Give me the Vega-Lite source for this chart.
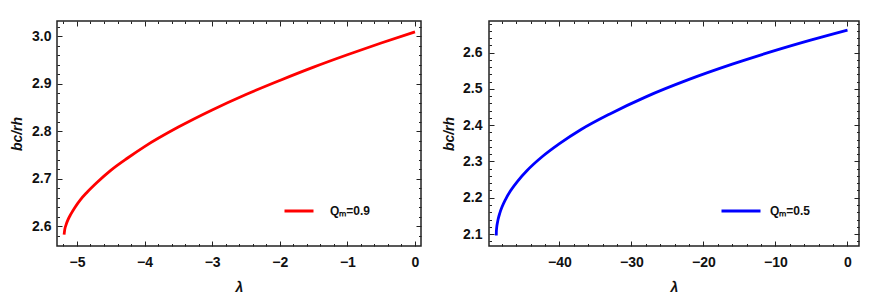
{
  "$schema": "https://vega.github.io/schema/vega-lite/v6.json",
  "padding": {"left": 9, "top": 19, "right": 15, "bottom": 5},
  "background": "white",
  "datasets": {
    "left": [
      {"lambda": -5.19, "b": 2.583, "series": "Qₘ=0.9"},
      {"lambda": -5.18, "b": 2.594, "series": "Qₘ=0.9"},
      {"lambda": -5.16, "b": 2.604, "series": "Qₘ=0.9"},
      {"lambda": -5.13, "b": 2.615, "series": "Qₘ=0.9"},
      {"lambda": -5.09, "b": 2.626, "series": "Qₘ=0.9"},
      {"lambda": -5.03, "b": 2.640, "series": "Qₘ=0.9"},
      {"lambda": -4.95, "b": 2.656, "series": "Qₘ=0.9"},
      {"lambda": -4.85, "b": 2.672, "series": "Qₘ=0.9"},
      {"lambda": -4.7, "b": 2.693, "series": "Qₘ=0.9"},
      {"lambda": -4.5, "b": 2.718, "series": "Qₘ=0.9"},
      {"lambda": -4.25, "b": 2.744, "series": "Qₘ=0.9"},
      {"lambda": -4.0, "b": 2.768, "series": "Qₘ=0.9"},
      {"lambda": -3.5, "b": 2.809, "series": "Qₘ=0.9"},
      {"lambda": -3.0, "b": 2.845, "series": "Qₘ=0.9"},
      {"lambda": -2.5, "b": 2.8775, "series": "Qₘ=0.9"},
      {"lambda": -2.0, "b": 2.907, "series": "Qₘ=0.9"},
      {"lambda": -1.5, "b": 2.935, "series": "Qₘ=0.9"},
      {"lambda": -1.0, "b": 2.961, "series": "Qₘ=0.9"},
      {"lambda": -0.5, "b": 2.9857, "series": "Qₘ=0.9"},
      {"lambda": 0.0, "b": 3.009, "series": "Qₘ=0.9"}
    ],
    "right": [
      {"lambda": -48.78, "b": 2.096, "series": "Qₘ=0.5"},
      {"lambda": -48.77, "b": 2.105, "series": "Qₘ=0.5"},
      {"lambda": -48.74, "b": 2.114, "series": "Qₘ=0.5"},
      {"lambda": -48.69, "b": 2.123, "series": "Qₘ=0.5"},
      {"lambda": -48.62, "b": 2.131, "series": "Qₘ=0.5"},
      {"lambda": -48.53, "b": 2.140, "series": "Qₘ=0.5"},
      {"lambda": -48.3, "b": 2.157, "series": "Qₘ=0.5"},
      {"lambda": -48.0, "b": 2.1735, "series": "Qₘ=0.5"},
      {"lambda": -47.5, "b": 2.195, "series": "Qₘ=0.5"},
      {"lambda": -46.8, "b": 2.219, "series": "Qₘ=0.5"},
      {"lambda": -45.8, "b": 2.246, "series": "Qₘ=0.5"},
      {"lambda": -44.5, "b": 2.275, "series": "Qₘ=0.5"},
      {"lambda": -42.5, "b": 2.3115, "series": "Qₘ=0.5"},
      {"lambda": -40.0, "b": 2.349, "series": "Qₘ=0.5"},
      {"lambda": -37.0, "b": 2.388, "series": "Qₘ=0.5"},
      {"lambda": -33.0, "b": 2.431, "series": "Qₘ=0.5"},
      {"lambda": -28.0, "b": 2.478, "series": "Qₘ=0.5"},
      {"lambda": -22.0, "b": 2.526, "series": "Qₘ=0.5"},
      {"lambda": -16.0, "b": 2.568, "series": "Qₘ=0.5"},
      {"lambda": -10.0, "b": 2.606, "series": "Qₘ=0.5"},
      {"lambda": -5.0, "b": 2.635, "series": "Qₘ=0.5"},
      {"lambda": 0.0, "b": 2.662, "series": "Qₘ=0.5"}
    ]
  },
  "config": {
    "view": {"stroke": "#222222", "strokeWidth": 1.5},
    "axis": {
      "grid": false,
      "domain": false,
      "labelFont": "Liberation Sans",
      "labelFontWeight": "bold",
      "labelFontSize": 14,
      "labelColor": "#111111",
      "labelFlush": false,
      "labelOverlap": false,
      "tickColor": "#222222",
      "tickWidth": 1,
      "titleFont": "Liberation Sans",
      "titleFontWeight": "bold",
      "titleFontStyle": "italic",
      "titleFontSize": 14,
      "titleColor": "#111111"
    },
    "legend": {
      "labelFont": "Liberation Sans",
      "labelFontWeight": "bold",
      "labelFontSize": 12,
      "labelColor": "#111111",
      "symbolType": "stroke",
      "symbolStrokeWidth": 3,
      "padding": 0
    }
  },
  "spacing": 18,
  "resolve": {"scale": {"x": "independent", "y": "independent", "color": "independent"}, "legend": {"color": "independent"}},
  "hconcat": [
    {
      "width": 364,
      "height": 225,
      "data": {"name": "left"},
      "resolve": {"axis": {"x": "independent", "y": "independent"}},
      "layer": [
        {
          "mark": {"type": "line", "strokeWidth": 2.8, "interpolate": "monotone"},
          "encoding": {
            "x": {"field": "lambda", "type": "quantitative", "scale": {"domain": [-5.295, 0.089], "nice": false, "zero": false},
                  "axis": {"orient": "bottom", "values": [-5, -4, -3, -2, -1, 0], "format": "d", "tickSize": -5, "labelPadding": 14, "title": "λ", "titlePadding": 11}},
            "y": {"field": "b", "type": "quantitative", "scale": {"domain": [2.559, 3.032], "nice": false, "zero": false},
                  "axis": {"orient": "left", "values": [2.6, 2.7, 2.8, 2.9, 3.0], "format": ".1f", "tickSize": -5, "labelPadding": 11, "title": "bc/rh", "titlePadding": 7}},
            "color": {"field": "series", "type": "nominal", "scale": {"range": ["#ff0000"]},
                      "legend": {"orient": "none", "legendX": 226, "legendY": 174, "title": null, "symbolSize": 841, "labelOffset": 15}}
          }
        },
        {
          "mark": {"type": "line", "opacity": 0},
          "encoding": {
            "x": {"field": "lambda", "type": "quantitative", "axis": {"orient": "top", "values": [-5, -4, -3, -2, -1, 0], "labels": false, "tickSize": -5, "title": null}},
            "y": {"field": "b", "type": "quantitative", "axis": {"orient": "right", "values": [2.6, 2.7, 2.8, 2.9, 3.0], "labels": false, "tickSize": -5, "title": null}}
          }
        },
        {
          "mark": {"type": "line", "opacity": 0},
          "encoding": {
            "x": {"field": "lambda", "type": "quantitative", "axis": {"orient": "bottom", "values": [-5.2, -4.8, -4.6, -4.4, -4.2, -3.8, -3.6, -3.4, -3.2, -2.8, -2.6, -2.4, -2.2, -1.8, -1.6, -1.4, -1.2, -0.8, -0.6, -0.4, -0.2], "labels": false, "tickSize": -2.5, "title": null}},
            "y": {"field": "b", "type": "quantitative", "axis": {"orient": "left", "values": [2.58, 2.62, 2.64, 2.66, 2.68, 2.72, 2.74, 2.76, 2.78, 2.82, 2.84, 2.86, 2.88, 2.92, 2.94, 2.96, 2.98, 3.02], "labels": false, "tickSize": -2.5, "title": null}}
          }
        },
        {
          "mark": {"type": "line", "opacity": 0},
          "encoding": {
            "x": {"field": "lambda", "type": "quantitative", "axis": {"orient": "top", "values": [-5.2, -4.8, -4.6, -4.4, -4.2, -3.8, -3.6, -3.4, -3.2, -2.8, -2.6, -2.4, -2.2, -1.8, -1.6, -1.4, -1.2, -0.8, -0.6, -0.4, -0.2], "labels": false, "tickSize": -2.5, "title": null}},
            "y": {"field": "b", "type": "quantitative", "axis": {"orient": "right", "values": [2.58, 2.62, 2.64, 2.66, 2.68, 2.72, 2.74, 2.76, 2.78, 2.82, 2.84, 2.86, 2.88, 2.92, 2.94, 2.96, 2.98, 3.02], "labels": false, "tickSize": -2.5, "title": null}}
          }
        }
      ]
    },
    {
      "width": 370,
      "height": 225,
      "data": {"name": "right"},
      "resolve": {"axis": {"x": "independent", "y": "independent"}},
      "layer": [
        {
          "mark": {"type": "line", "strokeWidth": 2.8, "interpolate": "monotone"},
          "encoding": {
            "x": {"field": "lambda", "type": "quantitative", "scale": {"domain": [-49.79, 1.6], "nice": false, "zero": false},
                  "axis": {"orient": "bottom", "values": [-40, -30, -20, -10, 0], "format": "d", "tickSize": -5, "labelPadding": 14, "title": "λ", "titlePadding": 11}},
            "y": {"field": "b", "type": "quantitative", "scale": {"domain": [2.067, 2.687], "nice": false, "zero": false},
                  "axis": {"orient": "left", "values": [2.1, 2.2, 2.3, 2.4, 2.5, 2.6], "format": ".1f", "tickSize": -5, "labelPadding": 12, "title": "bc/rh", "titlePadding": 6}},
            "color": {"field": "series", "type": "nominal", "scale": {"range": ["#0000ff"]},
                      "legend": {"orient": "none", "legendX": 231, "legendY": 169, "title": null, "symbolSize": 1521, "labelOffset": 8}}
          }
        },
        {
          "mark": {"type": "line", "opacity": 0},
          "encoding": {
            "x": {"field": "lambda", "type": "quantitative", "axis": {"orient": "top", "values": [-40, -30, -20, -10, 0], "labels": false, "tickSize": -5, "title": null}},
            "y": {"field": "b", "type": "quantitative", "axis": {"orient": "right", "values": [2.1, 2.2, 2.3, 2.4, 2.5, 2.6], "labels": false, "tickSize": -5, "title": null}}
          }
        },
        {
          "mark": {"type": "line", "opacity": 0},
          "encoding": {
            "x": {"field": "lambda", "type": "quantitative", "axis": {"orient": "bottom", "values": [-48, -46, -44, -42, -38, -36, -34, -32, -28, -26, -24, -22, -18, -16, -14, -12, -8, -6, -4, -2], "labels": false, "tickSize": -2.5, "title": null}},
            "y": {"field": "b", "type": "quantitative", "axis": {"orient": "left", "values": [2.08, 2.12, 2.14, 2.16, 2.18, 2.22, 2.24, 2.26, 2.28, 2.32, 2.34, 2.36, 2.38, 2.42, 2.44, 2.46, 2.48, 2.52, 2.54, 2.56, 2.58, 2.62, 2.64, 2.66, 2.68], "labels": false, "tickSize": -2.5, "title": null}}
          }
        },
        {
          "mark": {"type": "line", "opacity": 0},
          "encoding": {
            "x": {"field": "lambda", "type": "quantitative", "axis": {"orient": "top", "values": [-48, -46, -44, -42, -38, -36, -34, -32, -28, -26, -24, -22, -18, -16, -14, -12, -8, -6, -4, -2], "labels": false, "tickSize": -2.5, "title": null}},
            "y": {"field": "b", "type": "quantitative", "axis": {"orient": "right", "values": [2.08, 2.12, 2.14, 2.16, 2.18, 2.22, 2.24, 2.26, 2.28, 2.32, 2.34, 2.36, 2.38, 2.42, 2.44, 2.46, 2.48, 2.52, 2.54, 2.56, 2.58, 2.62, 2.64, 2.66, 2.68], "labels": false, "tickSize": -2.5, "title": null}}
          }
        }
      ]
    }
  ]
}
